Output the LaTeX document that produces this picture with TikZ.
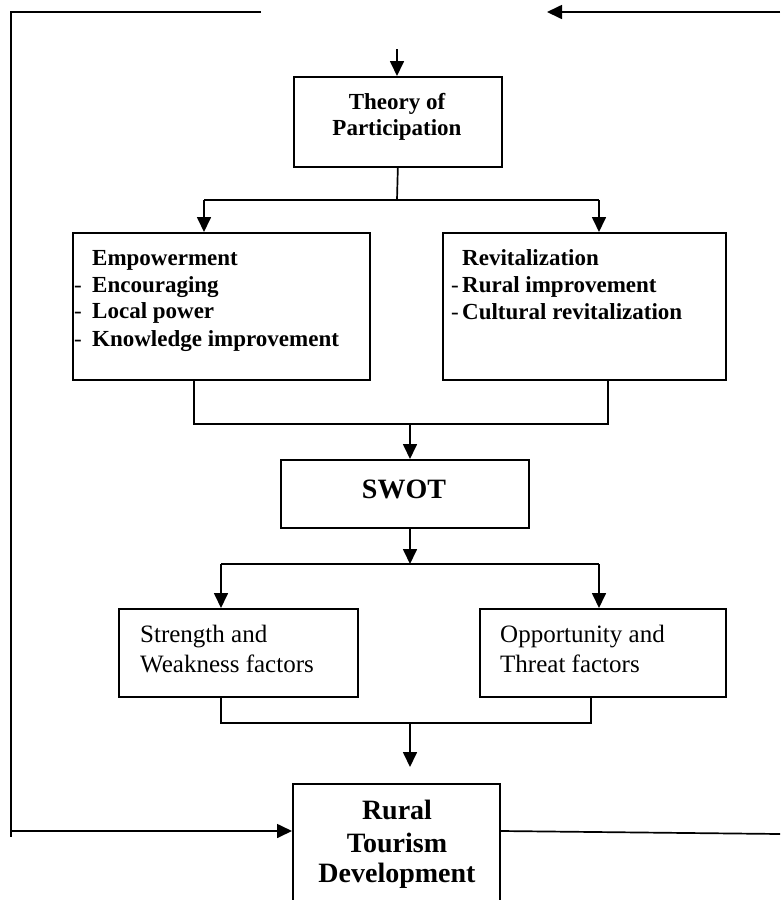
\documentclass[tikz,border=0pt]{standalone}
\usepackage{fontspec}
\setmainfont{Liberation Serif}
\usetikzlibrary{arrows.meta}

\begin{document}
\begin{tikzpicture}[x=1pt,y=-1pt,
  box/.style={draw, line width=1.7pt, inner sep=0pt, anchor=north west},
  link/.style={line width=1.7pt},
  arr/.style={line width=1.7pt, -{Triangle[length=15pt,width=14pt]}},
  bold/.style={font=\fontsize{23}{27}\selectfont\bfseries, inner sep=0pt},
  big/.style={font=\fontsize{28}{32}\selectfont\bfseries, inner sep=0pt, anchor=base},
  plain/.style={font=\fontsize{25}{29}\selectfont, inner sep=0pt, anchor=base west}]

\clip (0,0) rectangle (780,900);
\fill[white] (0,0) rectangle (780,900);

% boxes
\node[box, minimum width=208pt, minimum height=90pt]  (theory) at (293,76)  {};
\node[box, minimum width=297pt, minimum height=147pt] (emp)    at (72,232)  {};
\node[box, minimum width=283pt, minimum height=147pt] (rev)    at (442,232) {};
\node[box, minimum width=248pt, minimum height=68pt]  (swot)   at (280,459) {};
\node[box, minimum width=239pt, minimum height=88pt]  (sw)     at (118,608) {};
\node[box, minimum width=246pt, minimum height=88pt]  (ot)     at (479,608) {};
\node[box, minimum width=207pt, minimum height=140pt] (rural)  at (292,783) {};

% box texts
\node[bold, anchor=base] (th1) at (397,109) {Theory of};
\node[bold, anchor=base] (th2) at (397,135) {Participation};

\node[bold, anchor=base west] (em1) at (92,265) {Empowerment};
\node[bold, anchor=base west] (em2) at (74,292) {\makebox[18pt][l]{\mdseries -}Encouraging};
\node[bold, anchor=base west] (em3) at (74,318) {\makebox[18pt][l]{\mdseries -}Local power};
\node[bold, anchor=base west] (em4) at (74,346) {\makebox[18pt][l]{\mdseries -}Knowledge improvement};

\node[bold, anchor=base west] (rv1) at (462,265) {Revitalization};
\node[bold, anchor=base west] (rv2) at (451,292) {\makebox[11pt][l]{\mdseries -}Rural improvement};
\node[bold, anchor=base west] (rv3) at (451,319) {\makebox[11pt][l]{\mdseries -}Cultural revitalization};

\node[big] (sw1) at (404,498) {SWOT};

\node[plain] (st1) at (140,642) {Strength and};
\node[plain] (st2) at (140,672) {Weakness factors};
\node[plain] (op1) at (500,642) {Opportunity and};
\node[plain] (op2) at (500,672) {Threat factors};

\node[big] (ru1) at (397,819) {Rural};
\node[big] (ru2) at (397,852) {Tourism};
\node[big] (ru3) at (397,882) {Development};

% junction points
\coordinate (in)  at (397,49);
\coordinate (j1)  at (397,200);
\coordinate (ea)  at (204,200);
\coordinate (ra)  at (599,200);
\coordinate (eb)  at (194,424);
\coordinate (rb)  at (608,424);
\coordinate (sj)  at (410,424);
\coordinate (sk)  at (410,564);
\coordinate (sa)  at (221,564);
\coordinate (oa)  at (599,564);
\coordinate (sb)  at (221,723);
\coordinate (ob)  at (591,723);
\coordinate (rj)  at (410,723);
\coordinate (rt)  at (410,767);
% feedback loop
\coordinate (tl)  at (261,12);
\coordinate (c1)  at (11,12);
\coordinate (c2)  at (11,837);
\coordinate (bl)  at (11,831);
\coordinate (tr)  at (780,12);
\coordinate (tm)  at (547,12);
\coordinate (br)  at (780,834);

% main flow
\draw[arr]  (in) -- (in |- theory.north);
\draw[link] (theory.south) -- (j1);
\draw[link] (ea) -- (ra);
\draw[arr]  (ea) -- (ea |- emp.north);
\draw[arr]  (ra) -- (ra |- rev.north);

\draw[link] (eb |- emp.south) -- (eb) -- (rb) -- (rb |- rev.south);
\draw[arr]  (sj) -- (sj |- swot.north);

\draw[arr]  (sk |- swot.south) -- (sk);
\draw[link] (sa) -- (oa);
\draw[arr]  (sa) -- (sa |- sw.north);
\draw[arr]  (oa) -- (oa |- ot.north);

\draw[link] (sb |- sw.south) -- (sb) -- (ob) -- (ob |- ot.south);
\draw[arr]  (rj) -- (rt);

% feedback loop around the chart
\draw[link] (tl) -- (c1) -- (c2);
\draw[arr]  (bl) -- (bl -| rural.west);
\draw[arr]  (tr) -- (tm);
\draw[link] (rural.east |- bl) -- (br);
\end{tikzpicture}
\end{document}
